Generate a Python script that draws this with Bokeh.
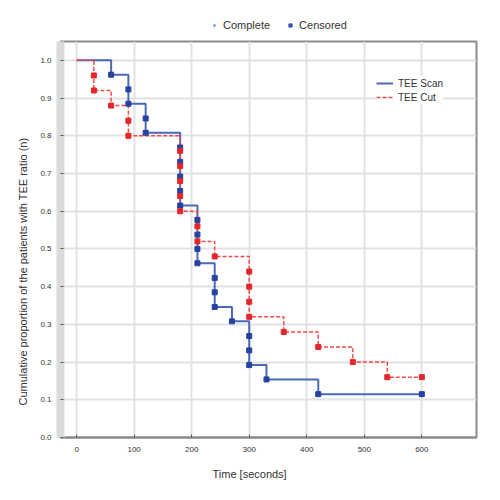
from bokeh.plotting import figure
from bokeh.models import (Range1d, FixedTicker, Legend, LegendItem, PrintfTickFormatter, Title)
from bokeh.layouts import column
from bokeh.embed import file_html
from bokeh.resources import INLINE

# ---------------- data ----------------
x_ticks = [0, 100, 200, 300, 400, 500, 600]
y_ticks = [0.0, 0.1, 0.2, 0.3, 0.4, 0.5, 0.6, 0.7, 0.8, 0.9, 1.0]

# TEE Scan (blue) Kaplan-Meier steps
scan_step_t = [0, 60, 90, 120, 180, 210, 240, 270, 300, 330, 420, 600]
scan_step_s = [1.0, 0.962, 0.885, 0.808, 0.615, 0.462, 0.346, 0.308, 0.192, 0.154, 0.115, 0.115]
scan_complete_t = [60, 90, 90, 120, 120, 180, 180, 180, 180, 180, 210, 210, 210, 210,
                   240, 240, 240, 270, 300, 300, 300, 330, 420]
scan_complete_s = [0.962, 0.923, 0.885, 0.846, 0.808, 0.769, 0.731, 0.692, 0.654, 0.615,
                   0.577, 0.538, 0.500, 0.462, 0.423, 0.385, 0.346, 0.308, 0.269, 0.231,
                   0.192, 0.154, 0.115]
scan_censored_t = [600]
scan_censored_s = [0.115]

# TEE Cut (red) Kaplan-Meier steps
cut_step_t = [0, 30, 60, 90, 180, 210, 240, 300, 360, 420, 480, 540, 600]
cut_step_s = [1.0, 0.92, 0.88, 0.80, 0.60, 0.52, 0.48, 0.32, 0.28, 0.24, 0.20, 0.16, 0.16]
cut_complete_t = [30, 30, 60, 90, 90, 180, 180, 180, 180, 180, 210, 210, 240,
                  300, 300, 300, 300, 360, 420, 480, 540]
cut_complete_s = [0.96, 0.92, 0.88, 0.84, 0.80, 0.76, 0.72, 0.68, 0.64, 0.60, 0.56, 0.52,
                  0.48, 0.44, 0.40, 0.36, 0.32, 0.28, 0.24, 0.20, 0.16]
cut_censored_t = [600]
cut_censored_s = [0.16]

series_names = ["TEE Scan", "TEE Cut"]
marker_names = ["Complete", "Censored"]
x_title = "Time [seconds]"
y_title = "Cumulative proportion of the patients with TEE ratio (n)"

# ---------------- styling ----------------
FONT = "Liberation Sans"
TXT = "#333333"
BLUE_LINE = "#4a68b8"
BLUE_MARK = "#2743a0"
RED_LINE = "#ee4a4a"
RED_MARK = "#e3262b"
W = 490

# ---------- strip above the plot holding the marker legend ----------
# its ranges lie outside the data, so only the legend glyphs are visible here
top_fig = figure(width=W, height=39, output_backend="svg", toolbar_location=None,
                 x_axis_type=None, y_axis_type=None, min_border=0,
                 x_range=Range1d(-2, -1), y_range=Range1d(-2, -1))
top_fig.outline_line_color = None
top_fig.grid.grid_line_color = None
r_comp = top_fig.scatter(scan_complete_t, scan_complete_s, marker="diamond", size=11,
                         fill_color="#7f9ce0", line_color="#7f9ce0")
r_cens = top_fig.scatter(scan_censored_t, scan_censored_s, marker="square", size=6,
                         fill_color="#3452b8", line_color="#3452b8")
top_legend = Legend(items=[LegendItem(label=marker_names[0], renderers=[r_comp]),
                           LegendItem(label=marker_names[1], renderers=[r_cens])],
                    orientation="horizontal", location=(150, 8), margin=0, padding=2,
                    spacing=16, glyph_width=8, glyph_height=12, label_height=12,
                    label_standoff=5, label_text_font=FONT, label_text_font_size="11px",
                    label_text_color=TXT, border_line_color=None, background_fill_alpha=0)
top_fig.add_layout(top_legend)

# ---------------- main plot ----------------
p = figure(width=W, height=451, output_backend="svg", toolbar_location=None,
           x_range=Range1d(-28, 695), y_range=Range1d(0, 1.05),
           min_border_left=60, min_border_right=14, min_border_top=2,
           min_border_bottom=53)
p.outline_line_color = "#8a8a8a"
p.outline_line_width = 2
p.background_fill_color = "white"
p.border_fill_color = "white"

# grid
p.xgrid.ticker = FixedTicker(ticks=x_ticks)
p.ygrid.ticker = FixedTicker(ticks=y_ticks)
for g in (p.xgrid, p.ygrid):
    g.grid_line_color = "#e2e2e2"
    g.grid_line_width = 2

# bottom axis
xa = p.xaxis[0]
xa.ticker = FixedTicker(ticks=x_ticks)
xa.axis_line_color = "#8a8a8a"
xa.axis_line_width = 2
xa.major_tick_in = 3
xa.major_tick_out = 0
xa.major_tick_line_color = "#555555"
xa.minor_tick_line_color = None
xa.major_label_standoff = 9
xa.major_label_text_font = FONT
xa.major_label_text_font_size = "8px"
xa.major_label_text_color = TXT

# left axis
ya = p.yaxis[0]
ya.ticker = FixedTicker(ticks=y_ticks)
ya.formatter = PrintfTickFormatter(format="%.1f")
ya.axis_line_color = "#dadada"
ya.axis_line_width = 8
ya.major_tick_in = 3
ya.major_tick_out = 0
ya.major_tick_line_color = "#555555"
ya.minor_tick_line_color = None
ya.major_label_standoff = 9
ya.major_label_text_font = FONT
ya.major_label_text_font_size = "8px"
ya.major_label_text_color = TXT

# axis titles (positioned like the reference)
p.add_layout(Title(text=x_title, align="left", offset=152, standoff=22,
                   text_font=FONT, text_font_size="11px", text_font_style="normal",
                   text_color=TXT), "below")
p.add_layout(Title(text=y_title, align="left", offset=32, standoff=17,
                   text_font=FONT, text_font_size="11px", text_font_style="normal",
                   text_color=TXT), "left")

# curves
r_scan = p.step(scan_step_t, scan_step_s, mode="after", line_color=BLUE_LINE, line_width=2)
r_cut = p.step(cut_step_t, cut_step_s, mode="after", line_color=RED_LINE, line_width=1.5,
               line_dash="4 2")

p.scatter(scan_complete_t, scan_complete_s, marker="square", size=5,
          fill_color=BLUE_MARK, line_color=BLUE_MARK)
p.scatter(cut_complete_t, cut_complete_s, marker="square", size=5,
          fill_color=RED_MARK, line_color=RED_MARK)
p.scatter(scan_censored_t, scan_censored_s, marker="square", size=5,
          fill_color=BLUE_MARK, line_color=BLUE_MARK)
p.scatter(cut_censored_t, cut_censored_s, marker="square", size=5,
          fill_color=RED_MARK, line_color=RED_MARK)

inner = Legend(items=[LegendItem(label=series_names[0], renderers=[r_scan]),
                      LegendItem(label=series_names[1], renderers=[r_cut])],
               location=(316, 333), margin=0, padding=5, spacing=0,
               glyph_width=17, glyph_height=14, label_height=14, label_standoff=5,
               label_text_font=FONT, label_text_font_size="10px", label_text_color=TXT,
               border_line_color=None, background_fill_color="white",
               background_fill_alpha=1.0)
p.add_layout(inner)

layout = column(top_fig, p, spacing=0)
open("out.html", "w").write(file_html(layout, INLINE))
